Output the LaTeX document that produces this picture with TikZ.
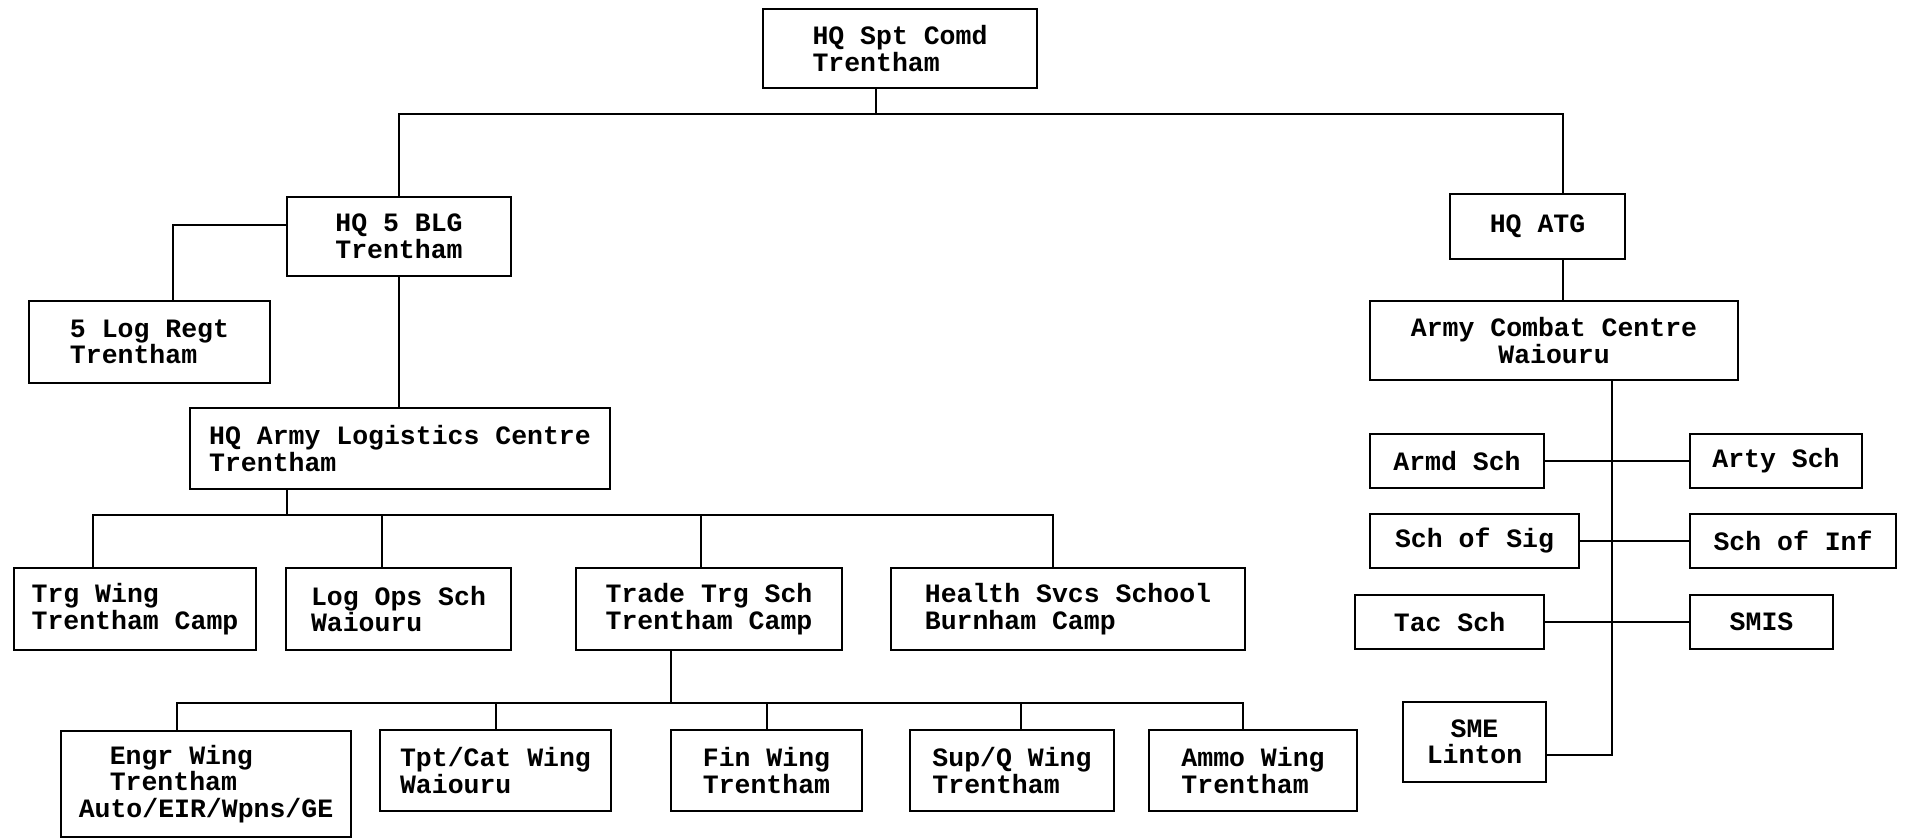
\documentclass[tikz,border=0pt]{standalone}
\usepackage{fontspec}
\setmonofont{Liberation Mono}
\usepackage{tikz}
\usetikzlibrary{positioning}
\definecolor{LineColor}{RGB}{0,0,0}
\newcommand{\unitfont}{\ttfamily\bfseries\fontsize{26.5}{26.5}\selectfont}
\tikzset{
  unit/.style={draw=LineColor, line width=2.4pt, inner sep=0pt, align=left, font=\unitfont},
  boxsize/.style 2 args={minimum width=#1, minimum height=#2},
  link/.style={draw=LineColor, line width=2pt}
}
\begin{document}
\begin{tikzpicture}[x=1pt, y=-1pt]
            \useasboundingbox[fill=white] (0,0) rectangle (1906,838);

            % Command and groups
            \node[unit, boxsize={274pt}{79pt}] (spt) at (900,48.5) {HQ Spt Comd\\Trentham};
            \node[unit, boxsize={224pt}{79pt}] (blg) at (399,236.5) {HQ 5 BLG\\Trentham};
            \node[unit, boxsize={241pt}{82pt}] (logregt) at (149.5,342) {5 Log Regt\\Trentham};
            \node[unit, boxsize={420pt}{81pt}] (alc) at (400,448.5) {HQ Army Logistics Centre\\Trentham};
            \node[unit, boxsize={175pt}{65pt}] (atg) at (1537.5,226.5) {HQ ATG};
            \node[unit, boxsize={368pt}{79pt}, align=center] (acc) at (1554,340.5) {Army Combat Centre\\Waiouru};

            % Logistics schools
            \node[unit, boxsize={242pt}{82pt}] (trg) at (135,609) {Trg Wing\\Trentham Camp};
            \node[unit, boxsize={225pt}{82pt}] (logops) at (398.5,609) {Log Ops Sch\\Waiouru};
            \node[unit, boxsize={266pt}{82pt}] (trade) at (709,609) {Trade Trg Sch\\Trentham Camp};
            \node[unit, boxsize={354pt}{82pt}] (health) at (1068,609) {Health Svcs School\\Burnham Camp};

            % Trade wings
            \node[unit, boxsize={290pt}{106pt}] (engr) at (206,784) {\hspace*{31pt}Engr Wing\\\hspace*{31pt}Trentham\\Auto/EIR/Wpns/GE};
            \node[unit, boxsize={231pt}{81pt}] (tpt) at (495.5,770.5) {Tpt/Cat Wing\\Waiouru};
            \node[unit, boxsize={191pt}{81pt}] (fin) at (766.5,770.5) {Fin Wing\\Trentham};
            \node[unit, boxsize={204pt}{81pt}] (supq) at (1012,770.5) {Sup/Q Wing\\Trentham};
            \node[unit, boxsize={208pt}{81pt}] (ammo) at (1253,770.5) {Ammo Wing\\Trentham};

            % Combat schools
            \node[unit, boxsize={174pt}{54pt}, align=center] (armd) at (1457,461) {Armd Sch};
            \node[unit, boxsize={172pt}{54pt}, align=center] (arty) at (1776,461) {Arty Sch};
            \node[unit, boxsize={209pt}{54pt}, align=center] (sig) at (1474.5,541) {Sch of Sig};
            \node[unit, boxsize={206pt}{54pt}, align=center] (inf) at (1793,541) {Sch of Inf};
            \node[unit, boxsize={189pt}{54pt}, align=center] (tac) at (1449.5,622) {Tac Sch};
            \node[unit, boxsize={143pt}{54pt}, align=center] (smis) at (1761.5,622) {SMIS};
            \node[unit, boxsize={143pt}{80pt}, align=center] (sme) at (1474.5,742) {SME\\Linton};

            % Bus points
            \coordinate (topbus) at (876,114);
            \coordinate (alcbus) at (287,515);
            \coordinate (tradebus) at (671,703);

            % Top level links
            \draw[link] ([xshift=-24pt]spt.south) -- (topbus);
            \draw[link] (blg.north) |- (topbus) -| ([xshift=25.5pt]atg.north);
            \draw[link] ([yshift=11.5pt]blg.west) -| ([xshift=23.5pt]logregt.north);
            \draw[link] (blg.south) -- (blg.south |- alc.north);

            % Logistics centre links
            \draw[link] ([xshift=-113pt]alc.south) -- (alcbus);
            \draw[link] ([xshift=-42pt]trg.north) |- (alcbus) -| ([xshift=-15pt]health.north);
            \foreach \n/\s in {logops/-16.5, trade/-8}
                \draw[link] ([xshift=\s pt]\n.north) |- (alcbus);

            % Trade school links
            \draw[link] ([xshift=-38pt]trade.south) -- (tradebus);
            \draw[link] ([xshift=-29pt]engr.north) |- (tradebus) -| ([xshift=-10pt]ammo.north);
            \foreach \n/\s in {tpt/0, fin/0, supq/9}
                \draw[link] ([xshift=\s pt]\n.north) |- (tradebus);

            % Combat centre links
            \draw[link] ([xshift=25.5pt]atg.south) -- ([xshift=25.5pt]atg.south |- acc.north);
            \draw[link] ([xshift=58pt]acc.south) |- ([yshift=-13pt]sme.east);
            \foreach \a/\b in {armd/arty, sig/inf, tac/smis}
                \draw[link] (\a.east) -- (\b.west);
        \end{tikzpicture}
\end{document}
